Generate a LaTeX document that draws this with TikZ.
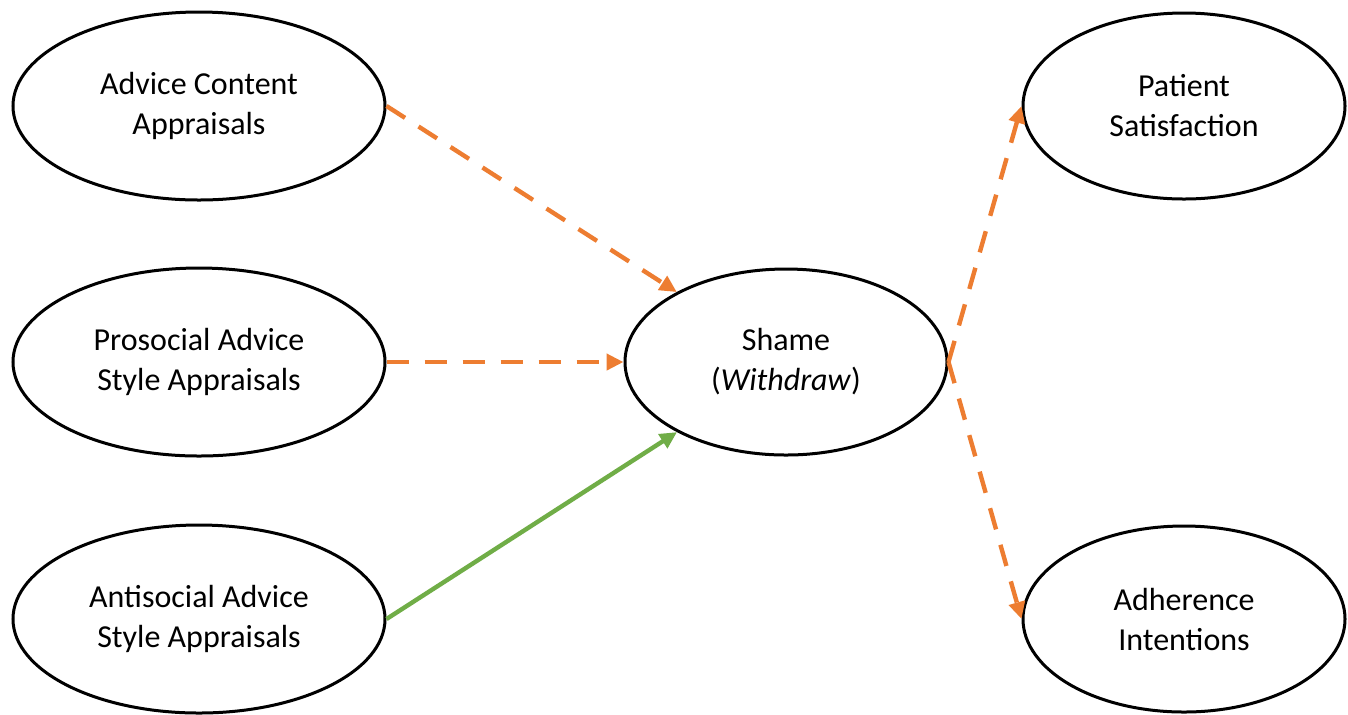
\documentclass[tikz,border=0pt]{standalone}
\usepackage{fontspec}
\setmainfont{Carlito}
\usetikzlibrary{shapes.geometric,arrows.meta}
\definecolor{pathorange}{HTML}{ED7D31}
\definecolor{pathgreen}{HTML}{70AD47}
\begin{document}
\begin{tikzpicture}[x=0.5pt,y=-0.5pt,
  construct/.style={ellipse,draw=black,line width=1.5pt,align=center,
    font=\fontsize{16}{20}\selectfont,inner sep=0pt},
  leftbox/.style={construct,minimum width=186pt,minimum height=94pt},
  rightbox/.style={construct,minimum width=161pt,minimum height=93pt},
  link/.style={line width=2.2pt,-{Triangle[length=8.5pt,width=8pt]}},
  negpath/.style={link,pathorange,dash pattern=on 11pt off 8pt},
  pospath/.style={link,pathgreen}]
\useasboundingbox (0,0) rectangle (1348,714);

\node[leftbox] (content) at (199,106) {Advice Content\\Appraisals};
\node[leftbox] (prosocial) at (199,362) {Prosocial Advice\\Style Appraisals};
\node[leftbox] (antisocial) at (199,619) {Antisocial Advice\\Style Appraisals};
\node[rightbox] (shame) at (786,362) {Shame\\(\textit{Withdraw})};
\node[rightbox] (satisfaction) at (1184,106) {Patient\\Satisfaction};
\node[rightbox] (adherence) at (1184,619) {Adherence\\Intentions};

\draw[negpath] (content.east) -- (shame);
\draw[negpath] (prosocial.east) -- (shame.west);
\draw[pospath] (antisocial.east) -- (shame);
\draw[negpath] (shame.east) -- (satisfaction.west);
\draw[negpath] (shame.east) -- (adherence.west);
\end{tikzpicture}
\end{document}
